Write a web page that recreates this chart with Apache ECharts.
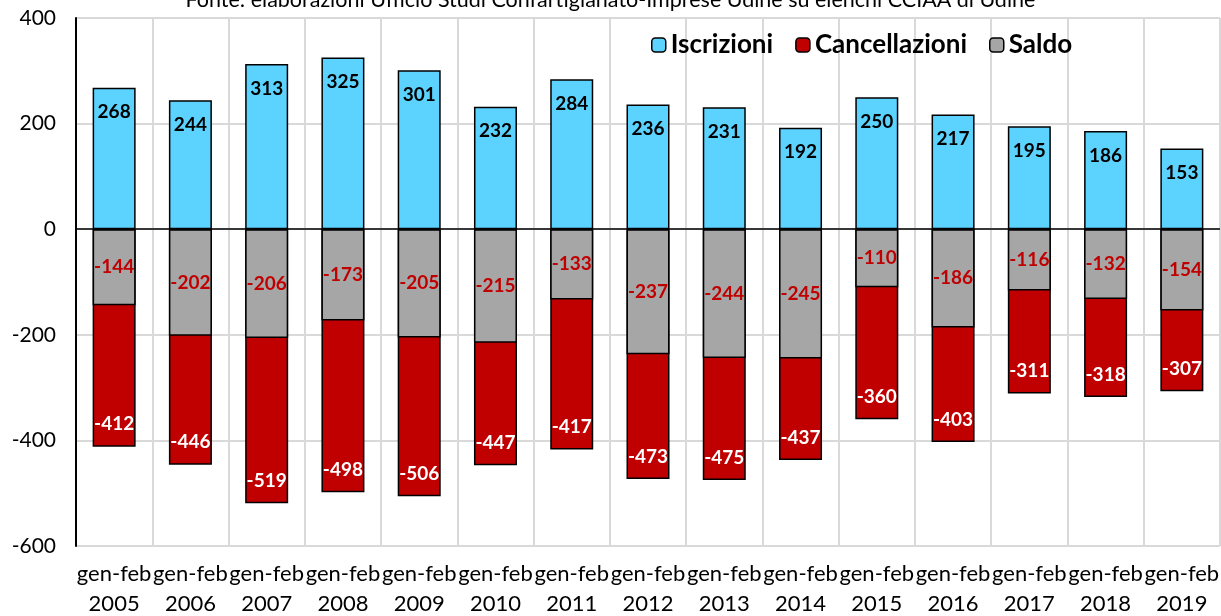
<!DOCTYPE html>
<html>
<head>
<meta charset="utf-8">
<script src="https://cdn.jsdelivr.net/npm/echarts@6/dist/echarts.min.js"></script>
<style>
  html, body { margin: 0; padding: 0; background: #fff; }
  #chart { width: 1221px; height: 616px; }
</style>
</head>
<body>
<div id="chart"></div>
<script>
var anni = ['2005', '2006', '2007', '2008', '2009', '2010', '2011', '2012', '2013', '2014', '2015', '2016', '2017', '2018', '2019'];
var iscrizioni = [268, 244, 313, 325, 301, 232, 284, 236, 231, 192, 250, 217, 195, 186, 153];
var cancellazioni = [-412, -446, -519, -498, -506, -447, -417, -473, -475, -437, -360, -403, -311, -318, -307];
var saldo = [-144, -202, -206, -173, -205, -215, -133, -237, -244, -245, -110, -186, -116, -132, -154];

var font = 'Lato, "Open Sans", sans-serif';

function GetCategorie(theData) {
    var Ret = [];
    for (var i = 0; i < theData.length; i++) {
        Ret.push('gen-feb\n' + theData[i]);
    }
    return Ret;
}

var myChart = echarts.init(document.getElementById('chart'));
var option = {
    animation: false,
    title: {
        text: 'Fonte: elaborazioni Ufficio Studi Confartigianato-Imprese Udine su elenchi CCIAA di Udine',
        left: 'center',
        top: -16,
        textStyle: { fontFamily: font, fontSize: 21.5, fontWeight: 'normal', color: '#000' }
    },
    legend: {
        left: 646,
        top: 27,
        itemWidth: 14,
        itemHeight: 14,
        itemGap: 22,
        itemStyle: { borderColor: '#000', borderWidth: 1.5 },
        textStyle: { fontFamily: font, fontSize: 26, fontWeight: 'bold', color: '#000' },
        data: ['Iscrizioni', 'Cancellazioni', 'Saldo']
    },
    grid: {
        left: 76,
        right: 1,
        top: 18,
        bottom: 70,
        outerBoundsMode: 'none'
    },
    xAxis: {
        type: 'category',
        data: GetCategorie(anni),
        axisLine: { show: false, onZero: false },
        axisTick: { show: false },
        splitLine: { show: true, lineStyle: { color: '#d9d9d9', width: 2 } },
        axisLabel: {
            fontFamily: font,
            fontSize: 22,
            color: '#000',
            lineHeight: 30,
            margin: 13,
            interval: 0
        }
    },
    yAxis: {
        type: 'value',
        min: -600,
        max: 400,
        interval: 200,
        axisLine: { show: true, lineStyle: { color: '#000', width: 2 } },
        axisTick: { show: false },
        splitLine: { lineStyle: { color: '#d9d9d9', width: 2 } },
        axisLabel: { fontFamily: font, fontSize: 21, color: '#000', margin: 20 }
    },
    series: [
        {
            name: 'Iscrizioni',
            type: 'bar',
            barWidth: 43,
            barGap: '-100%',
            data: iscrizioni,
            itemStyle: { color: '#5cd3ff', borderColor: '#000', borderWidth: 1.5 },
            label: {
                show: true,
                position: 'insideTop',
                distance: 15,
                fontFamily: font,
                fontSize: 19,
                fontWeight: 'bold',
                color: '#000'
            },
            markLine: {
                silent: true,
                symbol: 'none',
                label: { show: false },
                lineStyle: { color: '#000', width: 1.5, type: 'solid' },
                data: [{ yAxis: 0 }]
            }
        },
        {
            name: 'Cancellazioni',
            type: 'bar',
            barWidth: 43,
            barGap: '-100%',
            data: cancellazioni,
            itemStyle: { color: '#c00000', borderColor: '#000', borderWidth: 1.5 },
            label: {
                show: true,
                position: 'insideBottom',
                distance: 13,
                fontFamily: font,
                fontSize: 19,
                fontWeight: 'bold',
                color: '#fff'
            }
        },
        {
            name: 'Saldo',
            type: 'bar',
            barWidth: 43,
            barGap: '-100%',
            data: saldo,
            itemStyle: { color: '#a6a6a6', borderColor: '#000', borderWidth: 1.5 },
            label: {
                show: true,
                position: 'inside',
                fontFamily: font,
                fontSize: 19,
                fontWeight: 'bold',
                color: '#c00000'
            }
        }
    ]
};
myChart.setOption(option);
</script>
</body>
</html>
